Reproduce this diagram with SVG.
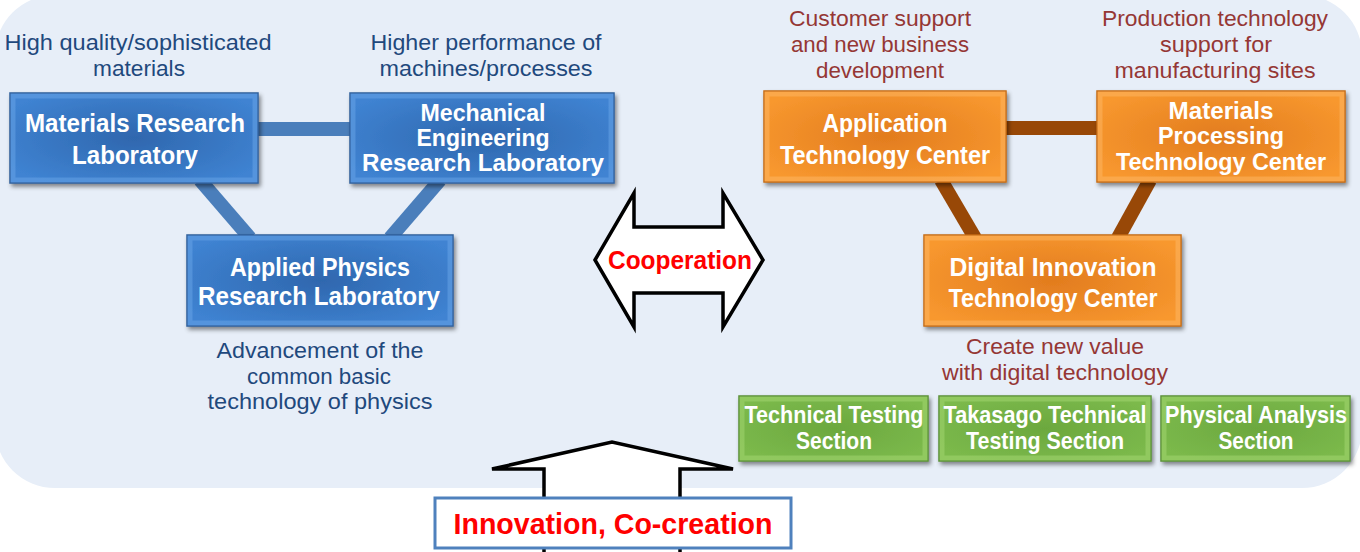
<svg xmlns="http://www.w3.org/2000/svg" width="1360" height="552" viewBox="0 0 1360 552">
<defs>
<style>
.cap{font-family:"Liberation Sans","DejaVu Sans",sans-serif;font-size:22px;text-anchor:middle}
.blue{fill:#1F497D}
.red{fill:#953735}
.bt{font-family:"Liberation Sans","DejaVu Sans",sans-serif;font-weight:bold;font-size:26px;fill:#FFFFFF;text-anchor:middle}
.bt3{font-size:23px}
.gt{font-family:"Liberation Sans","DejaVu Sans",sans-serif;font-weight:bold;font-size:23px;fill:#FFFFFF;text-anchor:middle}
.rt{font-family:"Liberation Sans","DejaVu Sans",sans-serif;font-weight:bold;fill:#FF0000;text-anchor:middle}
.bevel{fill:none;stroke-width:5;stroke-opacity:0.5}
.lnB{stroke:#4A7EBB;stroke-width:14;fill:none}
.lnO{stroke:#984807;stroke-width:14;fill:none}
.arr{fill:#FFFFFF;stroke:#000000;stroke-width:3.5;stroke-linejoin:miter}
</style>
<radialGradient id="gB" cx="0.5" cy="0.5" r="0.6">
<stop offset="0" stop-color="#2F67AE"/>
<stop offset="1" stop-color="#3F83D2"/>
</radialGradient>
<radialGradient id="gO" cx="0.5" cy="0.5" r="0.6">
<stop offset="0" stop-color="#E27C1E"/>
<stop offset="1" stop-color="#F8982F"/>
</radialGradient>
<radialGradient id="gG" cx="0.5" cy="0.5" r="0.6">
<stop offset="0" stop-color="#6CA83E"/>
<stop offset="1" stop-color="#7CBA4C"/>
</radialGradient>
<filter id="sh" x="-10%" y="-10%" width="125%" height="135%">
<feDropShadow dx="2" dy="3" stdDeviation="2" flood-color="#000" flood-opacity="0.45"/>
</filter>
</defs>

<rect id="background" x="-5" y="-5" width="1367" height="493" rx="60" ry="60" fill="#E7EEF8"/>

<g id="connectors">
<line class="lnB" x1="255" y1="129" x2="355" y2="129"/>
<line class="lnB" x1="200" y1="180" x2="250" y2="238"/>
<line class="lnB" x1="440" y1="180" x2="390" y2="238"/>
<line class="lnO" x1="1003" y1="128" x2="1100" y2="128"/>
<line class="lnO" x1="941" y1="180" x2="975" y2="238"/>
<line class="lnO" x1="1150" y1="180" x2="1118" y2="238"/>
</g>

<g id="captions">
<text class="cap blue" x="138" y="50" textLength="267" lengthAdjust="spacingAndGlyphs">High quality/sophisticated</text>
<text class="cap blue" x="139" y="76" textLength="92" lengthAdjust="spacingAndGlyphs">materials</text>
<text class="cap blue" x="486" y="50" textLength="231" lengthAdjust="spacingAndGlyphs">Higher performance of</text>
<text class="cap blue" x="486" y="76" textLength="213" lengthAdjust="spacingAndGlyphs">machines/processes</text>
<text class="cap blue" x="320" y="358" textLength="207" lengthAdjust="spacingAndGlyphs">Advancement of the</text>
<text class="cap blue" x="319" y="384" textLength="144" lengthAdjust="spacingAndGlyphs">common basic</text>
<text class="cap blue" x="320" y="409" textLength="225" lengthAdjust="spacingAndGlyphs">technology of physics</text>
<text class="cap red" x="880" y="26" textLength="182" lengthAdjust="spacingAndGlyphs">Customer support</text>
<text class="cap red" x="880" y="52" textLength="178" lengthAdjust="spacingAndGlyphs">and new business</text>
<text class="cap red" x="880" y="78" textLength="128" lengthAdjust="spacingAndGlyphs">development</text>
<text class="cap red" x="1215" y="26" textLength="226" lengthAdjust="spacingAndGlyphs">Production technology</text>
<text class="cap red" x="1216" y="52" textLength="112" lengthAdjust="spacingAndGlyphs">support for</text>
<text class="cap red" x="1215" y="78" textLength="201" lengthAdjust="spacingAndGlyphs">manufacturing sites</text>
<text class="cap red" x="1055" y="354" textLength="178" lengthAdjust="spacingAndGlyphs">Create new value</text>
<text class="cap red" x="1055" y="380" textLength="226" lengthAdjust="spacingAndGlyphs">with digital technology</text>
</g>

<g id="node-materials-research">
<rect x="10" y="93" width="248" height="90" fill="url(#gB)" stroke="#2C5D99" stroke-width="1.5" filter="url(#sh)"/>
<rect class="bevel" x="13" y="96" width="242" height="84" stroke="#6AA6E8"/>
<text class="bt" x="135" y="132" textLength="220" lengthAdjust="spacingAndGlyphs">Materials Research</text>
<text class="bt" x="135" y="164" textLength="126" lengthAdjust="spacingAndGlyphs">Laboratory</text>
</g>

<g id="node-mechanical">
<rect x="350" y="93" width="264" height="90" fill="url(#gB)" stroke="#2C5D99" stroke-width="1.5" filter="url(#sh)"/>
<rect class="bevel" x="353" y="96" width="258" height="84" stroke="#6AA6E8"/>
<text class="bt bt3" x="483" y="121" textLength="125" lengthAdjust="spacingAndGlyphs">Mechanical</text>
<text class="bt bt3" x="483" y="146" textLength="133" lengthAdjust="spacingAndGlyphs">Engineering</text>
<text class="bt bt3" x="483" y="171" textLength="242" lengthAdjust="spacingAndGlyphs">Research Laboratory</text>
</g>

<g id="node-applied-physics">
<rect x="187" y="235" width="266" height="91" fill="url(#gB)" stroke="#2C5D99" stroke-width="1.5" filter="url(#sh)"/>
<rect class="bevel" x="190" y="238" width="260" height="85" stroke="#6AA6E8"/>
<text class="bt" x="320" y="276" textLength="180" lengthAdjust="spacingAndGlyphs">Applied Physics</text>
<text class="bt" x="319" y="305" textLength="242" lengthAdjust="spacingAndGlyphs">Research Laboratory</text>
</g>

<g id="node-cooperation">
<polygon class="arr" points="595,260 634,193 634,227 723,227 723,193 763,260 723,327 723,293 634,293 634,327"/>
<text class="rt" x="680" y="269" font-size="26" textLength="144" lengthAdjust="spacingAndGlyphs">Cooperation</text>
</g>

<g id="node-application">
<rect x="764" y="91" width="242" height="91" fill="url(#gO)" stroke="#C46A14" stroke-width="1.5" filter="url(#sh)"/>
<rect class="bevel" x="767" y="94" width="236" height="85" stroke="#FDB766"/>
<text class="bt" x="885" y="132" textLength="125" lengthAdjust="spacingAndGlyphs">Application</text>
<text class="bt" x="885" y="164" textLength="210" lengthAdjust="spacingAndGlyphs">Technology Center</text>
</g>

<g id="node-materials-processing">
<rect x="1097" y="91" width="248" height="91" fill="url(#gO)" stroke="#C46A14" stroke-width="1.5" filter="url(#sh)"/>
<rect class="bevel" x="1100" y="94" width="242" height="85" stroke="#FDB766"/>
<text class="bt bt3" x="1221" y="119" textLength="105" lengthAdjust="spacingAndGlyphs">Materials</text>
<text class="bt bt3" x="1221" y="144" textLength="126" lengthAdjust="spacingAndGlyphs">Processing</text>
<text class="bt bt3" x="1221" y="170" textLength="210" lengthAdjust="spacingAndGlyphs">Technology Center</text>
</g>

<g id="node-digital-innovation">
<rect x="924" y="235" width="257" height="91" fill="url(#gO)" stroke="#C46A14" stroke-width="1.5" filter="url(#sh)"/>
<rect class="bevel" x="927" y="238" width="251" height="85" stroke="#FDB766"/>
<text class="bt" x="1053" y="276" textLength="207" lengthAdjust="spacingAndGlyphs">Digital Innovation</text>
<text class="bt" x="1053" y="307" textLength="209" lengthAdjust="spacingAndGlyphs">Technology Center</text>
</g>

<g id="node-technical-testing">
<rect x="739" y="396" width="189" height="65" fill="url(#gG)" stroke="#5A8F35" stroke-width="1.5" filter="url(#sh)"/>
<rect class="bevel" x="742" y="399" width="183" height="59" stroke="#A6D874"/>
<text class="gt" x="834" y="423" textLength="179" lengthAdjust="spacingAndGlyphs">Technical Testing</text>
<text class="gt" x="834" y="449" textLength="76" lengthAdjust="spacingAndGlyphs">Section</text>
</g>

<g id="node-takasago">
<rect x="939" y="396" width="212" height="65" fill="url(#gG)" stroke="#5A8F35" stroke-width="1.5" filter="url(#sh)"/>
<rect class="bevel" x="942" y="399" width="206" height="59" stroke="#A6D874"/>
<text class="gt" x="1045" y="423" textLength="203" lengthAdjust="spacingAndGlyphs">Takasago Technical</text>
<text class="gt" x="1045" y="449" textLength="158" lengthAdjust="spacingAndGlyphs">Testing Section</text>
</g>

<g id="node-physical-analysis">
<rect x="1161" y="396" width="189" height="65" fill="url(#gG)" stroke="#5A8F35" stroke-width="1.5" filter="url(#sh)"/>
<rect class="bevel" x="1164" y="399" width="183" height="59" stroke="#A6D874"/>
<text class="gt" x="1256" y="423" textLength="182" lengthAdjust="spacingAndGlyphs">Physical Analysis</text>
<text class="gt" x="1256" y="449" textLength="75" lengthAdjust="spacingAndGlyphs">Section</text>
</g>

<g id="node-innovation">
<polygon class="arr" points="544,560 544,469 492,469 612,442 733,469 680,469 680,560"/>
<rect x="435" y="498" width="356" height="50" fill="#FFFFFF" stroke="#4F81BD" stroke-width="3"/>
<text class="rt" x="613" y="534" font-size="30" textLength="319" lengthAdjust="spacingAndGlyphs">Innovation, Co-creation</text>
</g>
</svg>
